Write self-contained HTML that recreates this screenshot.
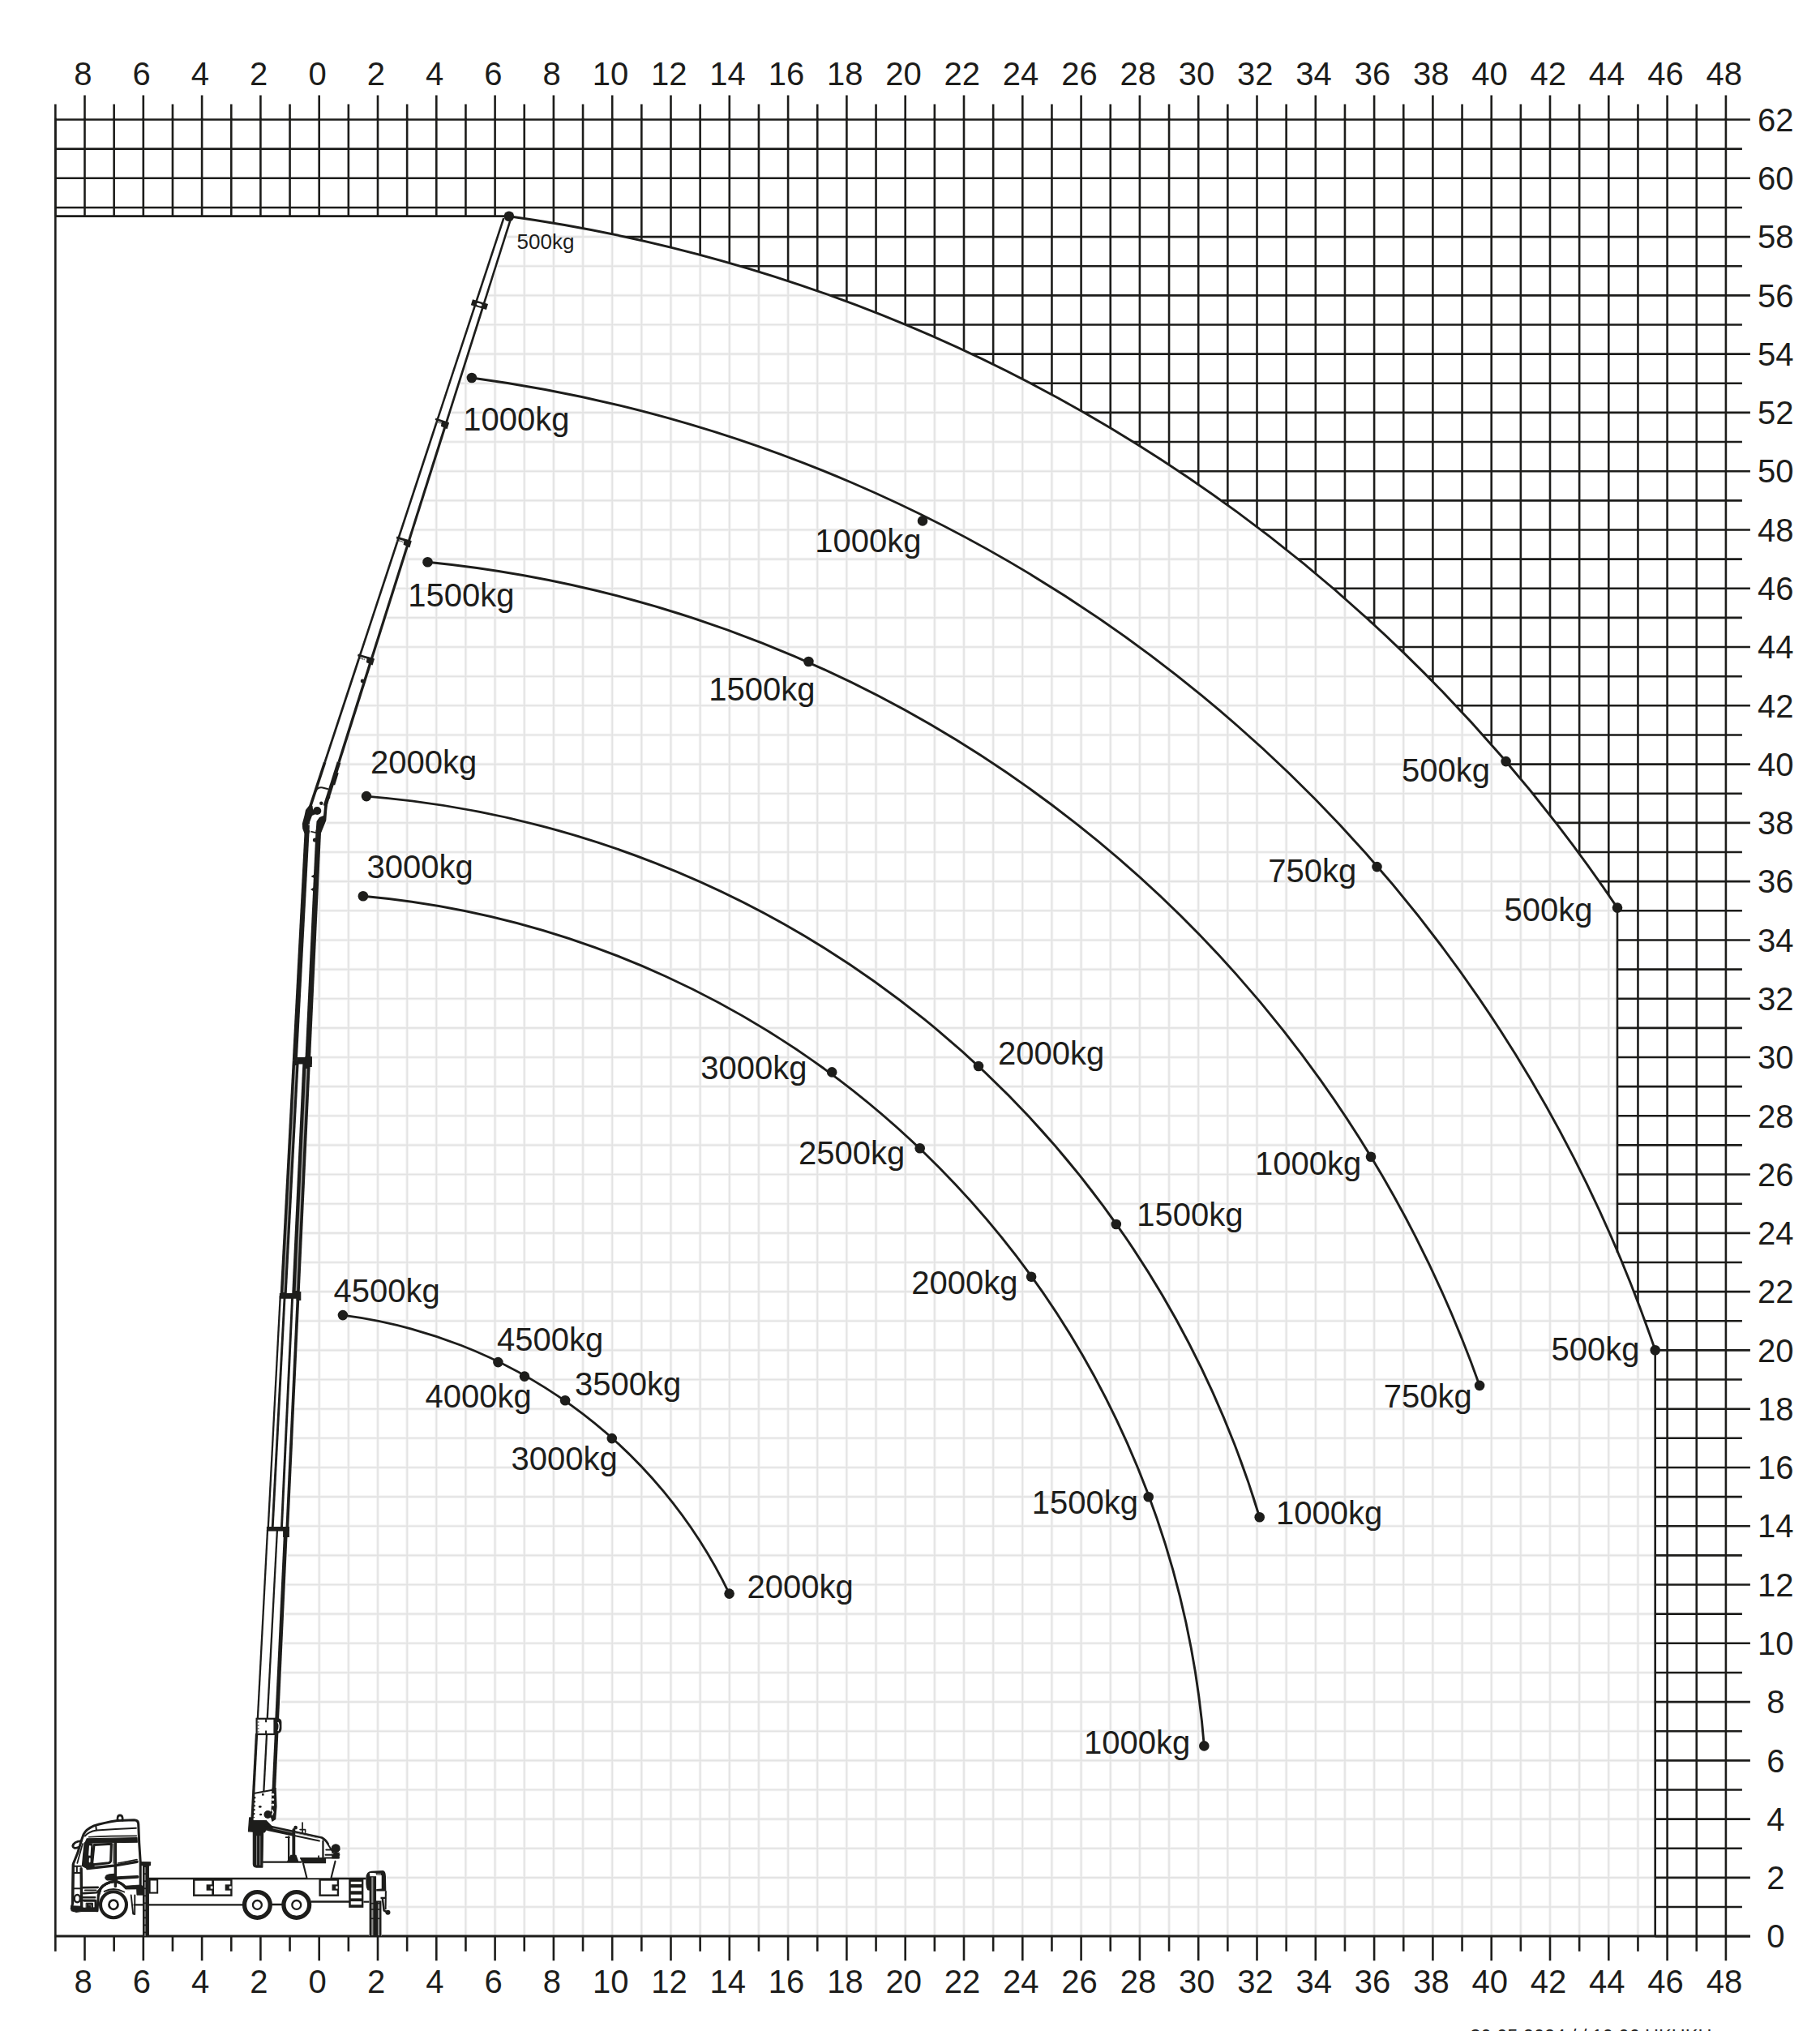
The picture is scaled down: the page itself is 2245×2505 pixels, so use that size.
<!DOCTYPE html>
<html><head><meta charset="utf-8"><title>Load chart</title>
<style>
html,body{margin:0;padding:0;background:#fff;}
body{width:2245px;height:2505px;overflow:hidden;}
svg{display:block;}
text{font-family:"Liberation Sans",sans-serif;fill:#1d1d1b;}
.ax{font-size:40px;}
.lb{font-size:40px;}
.sm{font-size:26px;}
.ft{font-size:23.5px;}
</style></head><body>
<svg width="2245" height="2505" viewBox="0 0 2245 2505">
<rect width="2245" height="2505" fill="#fff"/>

<defs><clipPath id="out"><path clip-rule="evenodd" d="M0,0 H2245 V2505 H0 Z M65.35000000000002,266.6 L627.9,266.8 A1978.1,1978.1 0 0 1 1995.0,1119.6 L1995.0,1543.1 A1794.2,1794.2 0 0 1 2041.7,1665.2 L2041.7,2391.2 L65.35000000000002,2391.2 Z"/></clipPath>
<clipPath id="lgc"><path d="M630.3,275 L631.9,266.8 A1978.1,1978.1 0 0 1 1995.0,1119.6 L1995.0,1543.1 A1794.2,1794.2 0 0 1 2041.7,1665.2 L2041.7,2388.2 L470.0,2388.2 L470.0,2366.0 L484.0,2358.0 L477.0,2350.0 L477.0,2307.0 L452.0,2307.0 L452.0,2316.0 L409.0,2316.0 L414.0,2298.0 L420.0,2298.0 L421.0,2276.0 L398.0,2265.0 L341.0,2251.0 L339.8,2245.0 L396.2,1030.0 L404.0,1012.0 L404.5,990.0 L405.8,985 Z"/></clipPath></defs>
<g clip-path="url(#lgc)"><path d="M393.70,260 V2388.2 M429.85,260 V2388.2 M466.00,260 V2388.2 M502.15,260 V2388.2 M538.30,260 V2388.2 M574.45,260 V2388.2 M610.60,260 V2388.2 M646.75,260 V2388.2 M682.90,260 V2388.2 M719.05,260 V2388.2 M755.20,260 V2388.2 M791.35,260 V2388.2 M827.50,260 V2388.2 M863.65,260 V2388.2 M899.80,260 V2388.2 M935.95,260 V2388.2 M972.10,260 V2388.2 M1008.25,260 V2388.2 M1044.40,260 V2388.2 M1080.55,260 V2388.2 M1116.70,260 V2388.2 M1152.85,260 V2388.2 M1189.00,260 V2388.2 M1225.15,260 V2388.2 M1261.30,260 V2388.2 M1297.45,260 V2388.2 M1333.60,260 V2388.2 M1369.75,260 V2388.2 M1405.90,260 V2388.2 M1442.05,260 V2388.2 M1478.20,260 V2388.2 M1514.35,260 V2388.2 M1550.50,260 V2388.2 M1586.65,260 V2388.2 M1622.80,260 V2388.2 M1658.95,260 V2388.2 M1695.10,260 V2388.2 M1731.25,260 V2388.2 M1767.40,260 V2388.2 M1803.55,260 V2388.2 M1839.70,260 V2388.2 M1875.85,260 V2388.2 M1912.00,260 V2388.2 M1948.15,260 V2388.2 M1984.30,260 V2388.2 M2020.45,260 V2388.2 M2056.60,260 V2388.2 M300,2388.20 H2050 M300,2352.06 H2050 M300,2315.92 H2050 M300,2279.78 H2050 M300,2243.64 H2050 M300,2207.50 H2050 M300,2171.36 H2050 M300,2135.22 H2050 M300,2099.08 H2050 M300,2062.94 H2050 M300,2026.80 H2050 M300,1990.66 H2050 M300,1954.52 H2050 M300,1918.38 H2050 M300,1882.24 H2050 M300,1846.10 H2050 M300,1809.96 H2050 M300,1773.82 H2050 M300,1737.68 H2050 M300,1701.54 H2050 M300,1665.40 H2050 M300,1629.26 H2050 M300,1593.12 H2050 M300,1556.98 H2050 M300,1520.84 H2050 M300,1484.70 H2050 M300,1448.56 H2050 M300,1412.42 H2050 M300,1376.28 H2050 M300,1340.14 H2050 M300,1304.00 H2050 M300,1267.86 H2050 M300,1231.72 H2050 M300,1195.58 H2050 M300,1159.44 H2050 M300,1123.30 H2050 M300,1087.16 H2050 M300,1051.02 H2050 M300,1014.88 H2050 M300,978.74 H2050 M300,942.60 H2050 M300,906.46 H2050 M300,870.32 H2050 M300,834.18 H2050 M300,798.04 H2050 M300,761.90 H2050 M300,725.76 H2050 M300,689.62 H2050 M300,653.48 H2050 M300,617.34 H2050 M300,581.20 H2050 M300,545.06 H2050 M300,508.92 H2050 M300,472.78 H2050 M300,436.64 H2050 M300,400.50 H2050 M300,364.36 H2050 M300,328.22 H2050 M300,292.08 H2050" stroke="#f3f3f3" stroke-width="3.6" fill="none"/><path d="M393.70,260 V2388.2 M429.85,260 V2388.2 M466.00,260 V2388.2 M502.15,260 V2388.2 M538.30,260 V2388.2 M574.45,260 V2388.2 M610.60,260 V2388.2 M646.75,260 V2388.2 M682.90,260 V2388.2 M719.05,260 V2388.2 M755.20,260 V2388.2 M791.35,260 V2388.2 M827.50,260 V2388.2 M863.65,260 V2388.2 M899.80,260 V2388.2 M935.95,260 V2388.2 M972.10,260 V2388.2 M1008.25,260 V2388.2 M1044.40,260 V2388.2 M1080.55,260 V2388.2 M1116.70,260 V2388.2 M1152.85,260 V2388.2 M1189.00,260 V2388.2 M1225.15,260 V2388.2 M1261.30,260 V2388.2 M1297.45,260 V2388.2 M1333.60,260 V2388.2 M1369.75,260 V2388.2 M1405.90,260 V2388.2 M1442.05,260 V2388.2 M1478.20,260 V2388.2 M1514.35,260 V2388.2 M1550.50,260 V2388.2 M1586.65,260 V2388.2 M1622.80,260 V2388.2 M1658.95,260 V2388.2 M1695.10,260 V2388.2 M1731.25,260 V2388.2 M1767.40,260 V2388.2 M1803.55,260 V2388.2 M1839.70,260 V2388.2 M1875.85,260 V2388.2 M1912.00,260 V2388.2 M1948.15,260 V2388.2 M1984.30,260 V2388.2 M2020.45,260 V2388.2 M2056.60,260 V2388.2 M300,2388.20 H2050 M300,2352.06 H2050 M300,2315.92 H2050 M300,2279.78 H2050 M300,2243.64 H2050 M300,2207.50 H2050 M300,2171.36 H2050 M300,2135.22 H2050 M300,2099.08 H2050 M300,2062.94 H2050 M300,2026.80 H2050 M300,1990.66 H2050 M300,1954.52 H2050 M300,1918.38 H2050 M300,1882.24 H2050 M300,1846.10 H2050 M300,1809.96 H2050 M300,1773.82 H2050 M300,1737.68 H2050 M300,1701.54 H2050 M300,1665.40 H2050 M300,1629.26 H2050 M300,1593.12 H2050 M300,1556.98 H2050 M300,1520.84 H2050 M300,1484.70 H2050 M300,1448.56 H2050 M300,1412.42 H2050 M300,1376.28 H2050 M300,1340.14 H2050 M300,1304.00 H2050 M300,1267.86 H2050 M300,1231.72 H2050 M300,1195.58 H2050 M300,1159.44 H2050 M300,1123.30 H2050 M300,1087.16 H2050 M300,1051.02 H2050 M300,1014.88 H2050 M300,978.74 H2050 M300,942.60 H2050 M300,906.46 H2050 M300,870.32 H2050 M300,834.18 H2050 M300,798.04 H2050 M300,761.90 H2050 M300,725.76 H2050 M300,689.62 H2050 M300,653.48 H2050 M300,617.34 H2050 M300,581.20 H2050 M300,545.06 H2050 M300,508.92 H2050 M300,472.78 H2050 M300,436.64 H2050 M300,400.50 H2050 M300,364.36 H2050 M300,328.22 H2050 M300,292.08 H2050" stroke="#e3e3e3" stroke-width="1.6" fill="none"/></g>
<g clip-path="url(#out)"><path d="M68.35,145.51999999999998 V2388.2 M104.50,145.51999999999998 V2388.2 M140.65,145.51999999999998 V2388.2 M176.80,145.51999999999998 V2388.2 M212.95,145.51999999999998 V2388.2 M249.10,145.51999999999998 V2388.2 M285.25,145.51999999999998 V2388.2 M321.40,145.51999999999998 V2388.2 M357.55,145.51999999999998 V2388.2 M393.70,145.51999999999998 V2388.2 M429.85,145.51999999999998 V2388.2 M466.00,145.51999999999998 V2388.2 M502.15,145.51999999999998 V2388.2 M538.30,145.51999999999998 V2388.2 M574.45,145.51999999999998 V2388.2 M610.60,145.51999999999998 V2388.2 M646.75,145.51999999999998 V2388.2 M682.90,145.51999999999998 V2388.2 M719.05,145.51999999999998 V2388.2 M755.20,145.51999999999998 V2388.2 M791.35,145.51999999999998 V2388.2 M827.50,145.51999999999998 V2388.2 M863.65,145.51999999999998 V2388.2 M899.80,145.51999999999998 V2388.2 M935.95,145.51999999999998 V2388.2 M972.10,145.51999999999998 V2388.2 M1008.25,145.51999999999998 V2388.2 M1044.40,145.51999999999998 V2388.2 M1080.55,145.51999999999998 V2388.2 M1116.70,145.51999999999998 V2388.2 M1152.85,145.51999999999998 V2388.2 M1189.00,145.51999999999998 V2388.2 M1225.15,145.51999999999998 V2388.2 M1261.30,145.51999999999998 V2388.2 M1297.45,145.51999999999998 V2388.2 M1333.60,145.51999999999998 V2388.2 M1369.75,145.51999999999998 V2388.2 M1405.90,145.51999999999998 V2388.2 M1442.05,145.51999999999998 V2388.2 M1478.20,145.51999999999998 V2388.2 M1514.35,145.51999999999998 V2388.2 M1550.50,145.51999999999998 V2388.2 M1586.65,145.51999999999998 V2388.2 M1622.80,145.51999999999998 V2388.2 M1658.95,145.51999999999998 V2388.2 M1695.10,145.51999999999998 V2388.2 M1731.25,145.51999999999998 V2388.2 M1767.40,145.51999999999998 V2388.2 M1803.55,145.51999999999998 V2388.2 M1839.70,145.51999999999998 V2388.2 M1875.85,145.51999999999998 V2388.2 M1912.00,145.51999999999998 V2388.2 M1948.15,145.51999999999998 V2388.2 M1984.30,145.51999999999998 V2388.2 M2020.45,145.51999999999998 V2388.2 M2056.60,145.51999999999998 V2388.2 M2092.75,145.51999999999998 V2388.2 M2128.90,145.51999999999998 V2388.2 M68.35000000000002,2388.20 H2158.9 M68.35000000000002,2352.06 H2148.9 M68.35000000000002,2315.92 H2158.9 M68.35000000000002,2279.78 H2148.9 M68.35000000000002,2243.64 H2158.9 M68.35000000000002,2207.50 H2148.9 M68.35000000000002,2171.36 H2158.9 M68.35000000000002,2135.22 H2148.9 M68.35000000000002,2099.08 H2158.9 M68.35000000000002,2062.94 H2148.9 M68.35000000000002,2026.80 H2158.9 M68.35000000000002,1990.66 H2148.9 M68.35000000000002,1954.52 H2158.9 M68.35000000000002,1918.38 H2148.9 M68.35000000000002,1882.24 H2158.9 M68.35000000000002,1846.10 H2148.9 M68.35000000000002,1809.96 H2158.9 M68.35000000000002,1773.82 H2148.9 M68.35000000000002,1737.68 H2158.9 M68.35000000000002,1701.54 H2148.9 M68.35000000000002,1665.40 H2158.9 M68.35000000000002,1629.26 H2148.9 M68.35000000000002,1593.12 H2158.9 M68.35000000000002,1556.98 H2148.9 M68.35000000000002,1520.84 H2158.9 M68.35000000000002,1484.70 H2148.9 M68.35000000000002,1448.56 H2158.9 M68.35000000000002,1412.42 H2148.9 M68.35000000000002,1376.28 H2158.9 M68.35000000000002,1340.14 H2148.9 M68.35000000000002,1304.00 H2158.9 M68.35000000000002,1267.86 H2148.9 M68.35000000000002,1231.72 H2158.9 M68.35000000000002,1195.58 H2148.9 M68.35000000000002,1159.44 H2158.9 M68.35000000000002,1123.30 H2148.9 M68.35000000000002,1087.16 H2158.9 M68.35000000000002,1051.02 H2148.9 M68.35000000000002,1014.88 H2158.9 M68.35000000000002,978.74 H2148.9 M68.35000000000002,942.60 H2158.9 M68.35000000000002,906.46 H2148.9 M68.35000000000002,870.32 H2158.9 M68.35000000000002,834.18 H2148.9 M68.35000000000002,798.04 H2158.9 M68.35000000000002,761.90 H2148.9 M68.35000000000002,725.76 H2158.9 M68.35000000000002,689.62 H2148.9 M68.35000000000002,653.48 H2158.9 M68.35000000000002,617.34 H2148.9 M68.35000000000002,581.20 H2158.9 M68.35000000000002,545.06 H2148.9 M68.35000000000002,508.92 H2158.9 M68.35000000000002,472.78 H2148.9 M68.35000000000002,436.64 H2158.9 M68.35000000000002,400.50 H2148.9 M68.35000000000002,364.36 H2158.9 M68.35000000000002,328.22 H2148.9 M68.35000000000002,292.08 H2158.9 M68.35000000000002,255.94 H2148.9 M68.35000000000002,219.80 H2158.9 M68.35000000000002,183.66 H2148.9 M68.35000000000002,147.52 H2158.9" stroke="#1d1d1b" stroke-width="2.6" fill="none"/></g>
<path d="M68.35,128.5 V147.5 M68.35,2388.2 V2406.7 M104.50,117.5 V147.5 M104.50,2388.2 V2418.2 M140.65,128.5 V147.5 M140.65,2388.2 V2406.7 M176.80,117.5 V147.5 M176.80,2388.2 V2418.2 M212.95,128.5 V147.5 M212.95,2388.2 V2406.7 M249.10,117.5 V147.5 M249.10,2388.2 V2418.2 M285.25,128.5 V147.5 M285.25,2388.2 V2406.7 M321.40,117.5 V147.5 M321.40,2388.2 V2418.2 M357.55,128.5 V147.5 M357.55,2388.2 V2406.7 M393.70,117.5 V147.5 M393.70,2388.2 V2418.2 M429.85,128.5 V147.5 M429.85,2388.2 V2406.7 M466.00,117.5 V147.5 M466.00,2388.2 V2418.2 M502.15,128.5 V147.5 M502.15,2388.2 V2406.7 M538.30,117.5 V147.5 M538.30,2388.2 V2418.2 M574.45,128.5 V147.5 M574.45,2388.2 V2406.7 M610.60,117.5 V147.5 M610.60,2388.2 V2418.2 M646.75,128.5 V147.5 M646.75,2388.2 V2406.7 M682.90,117.5 V147.5 M682.90,2388.2 V2418.2 M719.05,128.5 V147.5 M719.05,2388.2 V2406.7 M755.20,117.5 V147.5 M755.20,2388.2 V2418.2 M791.35,128.5 V147.5 M791.35,2388.2 V2406.7 M827.50,117.5 V147.5 M827.50,2388.2 V2418.2 M863.65,128.5 V147.5 M863.65,2388.2 V2406.7 M899.80,117.5 V147.5 M899.80,2388.2 V2418.2 M935.95,128.5 V147.5 M935.95,2388.2 V2406.7 M972.10,117.5 V147.5 M972.10,2388.2 V2418.2 M1008.25,128.5 V147.5 M1008.25,2388.2 V2406.7 M1044.40,117.5 V147.5 M1044.40,2388.2 V2418.2 M1080.55,128.5 V147.5 M1080.55,2388.2 V2406.7 M1116.70,117.5 V147.5 M1116.70,2388.2 V2418.2 M1152.85,128.5 V147.5 M1152.85,2388.2 V2406.7 M1189.00,117.5 V147.5 M1189.00,2388.2 V2418.2 M1225.15,128.5 V147.5 M1225.15,2388.2 V2406.7 M1261.30,117.5 V147.5 M1261.30,2388.2 V2418.2 M1297.45,128.5 V147.5 M1297.45,2388.2 V2406.7 M1333.60,117.5 V147.5 M1333.60,2388.2 V2418.2 M1369.75,128.5 V147.5 M1369.75,2388.2 V2406.7 M1405.90,117.5 V147.5 M1405.90,2388.2 V2418.2 M1442.05,128.5 V147.5 M1442.05,2388.2 V2406.7 M1478.20,117.5 V147.5 M1478.20,2388.2 V2418.2 M1514.35,128.5 V147.5 M1514.35,2388.2 V2406.7 M1550.50,117.5 V147.5 M1550.50,2388.2 V2418.2 M1586.65,128.5 V147.5 M1586.65,2388.2 V2406.7 M1622.80,117.5 V147.5 M1622.80,2388.2 V2418.2 M1658.95,128.5 V147.5 M1658.95,2388.2 V2406.7 M1695.10,117.5 V147.5 M1695.10,2388.2 V2418.2 M1731.25,128.5 V147.5 M1731.25,2388.2 V2406.7 M1767.40,117.5 V147.5 M1767.40,2388.2 V2418.2 M1803.55,128.5 V147.5 M1803.55,2388.2 V2406.7 M1839.70,117.5 V147.5 M1839.70,2388.2 V2418.2 M1875.85,128.5 V147.5 M1875.85,2388.2 V2406.7 M1912.00,117.5 V147.5 M1912.00,2388.2 V2418.2 M1948.15,128.5 V147.5 M1948.15,2388.2 V2406.7 M1984.30,117.5 V147.5 M1984.30,2388.2 V2418.2 M2020.45,128.5 V147.5 M2020.45,2388.2 V2406.7 M2056.60,117.5 V147.5 M2056.60,2388.2 V2418.2 M2092.75,128.5 V147.5 M2092.75,2388.2 V2406.7 M2128.90,117.5 V147.5 M2128.90,2388.2 V2418.2 M68.35000000000002,147.51999999999998 V2388.2 M68.35000000000002,266.6 H627.9 M1995.0,1119.6 V1545.1 M2041.7,1665.2 V2388.2" stroke="#1d1d1b" stroke-width="2.6" fill="none"/>
<path d="M67.05000000000003,2388.0 H2158.8999999999996" stroke="#1d1d1b" stroke-width="3" fill="none"/>
<text class="ax" x="102.3" y="105.3" text-anchor="middle">8</text>
<text class="ax" x="102.5" y="2457.8" text-anchor="middle">8</text>
<text class="ax" x="174.6" y="105.3" text-anchor="middle">6</text>
<text class="ax" x="174.8" y="2457.8" text-anchor="middle">6</text>
<text class="ax" x="246.9" y="105.3" text-anchor="middle">4</text>
<text class="ax" x="247.1" y="2457.8" text-anchor="middle">4</text>
<text class="ax" x="319.2" y="105.3" text-anchor="middle">2</text>
<text class="ax" x="319.4" y="2457.8" text-anchor="middle">2</text>
<text class="ax" x="391.5" y="105.3" text-anchor="middle">0</text>
<text class="ax" x="391.7" y="2457.8" text-anchor="middle">0</text>
<text class="ax" x="463.8" y="105.3" text-anchor="middle">2</text>
<text class="ax" x="464.0" y="2457.8" text-anchor="middle">2</text>
<text class="ax" x="536.1" y="105.3" text-anchor="middle">4</text>
<text class="ax" x="536.3" y="2457.8" text-anchor="middle">4</text>
<text class="ax" x="608.4" y="105.3" text-anchor="middle">6</text>
<text class="ax" x="608.6" y="2457.8" text-anchor="middle">6</text>
<text class="ax" x="680.7" y="105.3" text-anchor="middle">8</text>
<text class="ax" x="680.9" y="2457.8" text-anchor="middle">8</text>
<text class="ax" x="753.0" y="105.3" text-anchor="middle">10</text>
<text class="ax" x="753.2" y="2457.8" text-anchor="middle">10</text>
<text class="ax" x="825.3" y="105.3" text-anchor="middle">12</text>
<text class="ax" x="825.5" y="2457.8" text-anchor="middle">12</text>
<text class="ax" x="897.6" y="105.3" text-anchor="middle">14</text>
<text class="ax" x="897.8" y="2457.8" text-anchor="middle">14</text>
<text class="ax" x="969.9" y="105.3" text-anchor="middle">16</text>
<text class="ax" x="970.1" y="2457.8" text-anchor="middle">16</text>
<text class="ax" x="1042.2" y="105.3" text-anchor="middle">18</text>
<text class="ax" x="1042.4" y="2457.8" text-anchor="middle">18</text>
<text class="ax" x="1114.5" y="105.3" text-anchor="middle">20</text>
<text class="ax" x="1114.7" y="2457.8" text-anchor="middle">20</text>
<text class="ax" x="1186.8" y="105.3" text-anchor="middle">22</text>
<text class="ax" x="1187.0" y="2457.8" text-anchor="middle">22</text>
<text class="ax" x="1259.1" y="105.3" text-anchor="middle">24</text>
<text class="ax" x="1259.3" y="2457.8" text-anchor="middle">24</text>
<text class="ax" x="1331.4" y="105.3" text-anchor="middle">26</text>
<text class="ax" x="1331.6" y="2457.8" text-anchor="middle">26</text>
<text class="ax" x="1403.7" y="105.3" text-anchor="middle">28</text>
<text class="ax" x="1403.9" y="2457.8" text-anchor="middle">28</text>
<text class="ax" x="1476.0" y="105.3" text-anchor="middle">30</text>
<text class="ax" x="1476.2" y="2457.8" text-anchor="middle">30</text>
<text class="ax" x="1548.3" y="105.3" text-anchor="middle">32</text>
<text class="ax" x="1548.5" y="2457.8" text-anchor="middle">32</text>
<text class="ax" x="1620.6" y="105.3" text-anchor="middle">34</text>
<text class="ax" x="1620.8" y="2457.8" text-anchor="middle">34</text>
<text class="ax" x="1692.9" y="105.3" text-anchor="middle">36</text>
<text class="ax" x="1693.1" y="2457.8" text-anchor="middle">36</text>
<text class="ax" x="1765.2" y="105.3" text-anchor="middle">38</text>
<text class="ax" x="1765.4" y="2457.8" text-anchor="middle">38</text>
<text class="ax" x="1837.5" y="105.3" text-anchor="middle">40</text>
<text class="ax" x="1837.7" y="2457.8" text-anchor="middle">40</text>
<text class="ax" x="1909.8" y="105.3" text-anchor="middle">42</text>
<text class="ax" x="1910.0" y="2457.8" text-anchor="middle">42</text>
<text class="ax" x="1982.1" y="105.3" text-anchor="middle">44</text>
<text class="ax" x="1982.3" y="2457.8" text-anchor="middle">44</text>
<text class="ax" x="2054.4" y="105.3" text-anchor="middle">46</text>
<text class="ax" x="2054.6" y="2457.8" text-anchor="middle">46</text>
<text class="ax" x="2126.7" y="105.3" text-anchor="middle">48</text>
<text class="ax" x="2126.9" y="2457.8" text-anchor="middle">48</text>
<text class="ax" x="2190.3" y="2402.4" text-anchor="middle">0</text>
<text class="ax" x="2190.3" y="2330.1" text-anchor="middle">2</text>
<text class="ax" x="2190.3" y="2257.8" text-anchor="middle">4</text>
<text class="ax" x="2190.3" y="2185.6" text-anchor="middle">6</text>
<text class="ax" x="2190.3" y="2113.3" text-anchor="middle">8</text>
<text class="ax" x="2190.3" y="2041.0" text-anchor="middle">10</text>
<text class="ax" x="2190.3" y="1968.7" text-anchor="middle">12</text>
<text class="ax" x="2190.3" y="1896.4" text-anchor="middle">14</text>
<text class="ax" x="2190.3" y="1824.2" text-anchor="middle">16</text>
<text class="ax" x="2190.3" y="1751.9" text-anchor="middle">18</text>
<text class="ax" x="2190.3" y="1679.6" text-anchor="middle">20</text>
<text class="ax" x="2190.3" y="1607.3" text-anchor="middle">22</text>
<text class="ax" x="2190.3" y="1535.0" text-anchor="middle">24</text>
<text class="ax" x="2190.3" y="1462.8" text-anchor="middle">26</text>
<text class="ax" x="2190.3" y="1390.5" text-anchor="middle">28</text>
<text class="ax" x="2190.3" y="1318.2" text-anchor="middle">30</text>
<text class="ax" x="2190.3" y="1245.9" text-anchor="middle">32</text>
<text class="ax" x="2190.3" y="1173.6" text-anchor="middle">34</text>
<text class="ax" x="2190.3" y="1101.4" text-anchor="middle">36</text>
<text class="ax" x="2190.3" y="1029.1" text-anchor="middle">38</text>
<text class="ax" x="2190.3" y="956.8" text-anchor="middle">40</text>
<text class="ax" x="2190.3" y="884.5" text-anchor="middle">42</text>
<text class="ax" x="2190.3" y="812.2" text-anchor="middle">44</text>
<text class="ax" x="2190.3" y="740.0" text-anchor="middle">46</text>
<text class="ax" x="2190.3" y="667.7" text-anchor="middle">48</text>
<text class="ax" x="2190.3" y="595.4" text-anchor="middle">50</text>
<text class="ax" x="2190.3" y="523.1" text-anchor="middle">52</text>
<text class="ax" x="2190.3" y="450.8" text-anchor="middle">54</text>
<text class="ax" x="2190.3" y="378.6" text-anchor="middle">56</text>
<text class="ax" x="2190.3" y="306.3" text-anchor="middle">58</text>
<text class="ax" x="2190.3" y="234.0" text-anchor="middle">60</text>
<text class="ax" x="2190.3" y="161.7" text-anchor="middle">62</text>
<path d="M627.9,266.8 A1978.1,1978.1 0 0 1 1995,1119.6" stroke="#1d1d1b" stroke-width="2.9" fill="none"/>
<path d="M581.9,466 A1794.2,1794.2 0 0 1 2041.7,1665.2" stroke="#1d1d1b" stroke-width="2.9" fill="none"/>
<path d="M527.5,693.2 A1539.2,1539.2 0 0 1 1825.1,1708.9" stroke="#1d1d1b" stroke-width="2.9" fill="none"/>
<path d="M452,982.1 A1257.6,1257.6 0 0 1 1553.7,1871.3" stroke="#1d1d1b" stroke-width="2.9" fill="none"/>
<path d="M447.9,1105.2 A1143.5,1143.5 0 0 1 1485.3,2153.4" stroke="#1d1d1b" stroke-width="2.9" fill="none"/>
<path d="M422.9,1622.1 A616.4,616.4 0 0 1 899.6,1965.6" stroke="#1d1d1b" stroke-width="2.9" fill="none"/>
<g transform="translate(220,2220) scale(0.153846)" stroke="#1d1d1b" fill="none" stroke-width="15.7" stroke-linejoin="miter">
<path d="M-240,630 H1515"/>
<path d="M-360,841 H520 M748,838 H832 M1062,816 H1372"/>
<rect x="125" y="640" width="300" height="125" fill="#fff"/>
<path d="M277,640 V765" stroke-width="17.9"/>
<rect x="225" y="678" width="50" height="48" fill="#1d1d1b" stroke="none"/><rect x="375" y="678" width="50" height="48" fill="#1d1d1b" stroke="none"/>
<rect x="258" y="692" width="18" height="20" fill="#fff" stroke="none"/><rect x="408" y="692" width="18" height="20" fill="#fff" stroke="none"/>
<rect x="1135" y="640" width="145" height="125" fill="#fff"/>
<rect x="1232" y="678" width="48" height="48" fill="#1d1d1b" stroke="none"/><rect x="1262" y="692" width="16" height="20" fill="#fff" stroke="none"/>
<rect x="-230" y="640" width="62" height="105" fill="#fff" stroke-width="13.4"/>
<circle cx="633" cy="841.4" r="103" fill="#fff" stroke-width="34.5"/>
<circle cx="633" cy="841.4" r="35.5" stroke-width="15"/>
<circle cx="947.5" cy="841.4" r="103" fill="#fff" stroke-width="34.5"/>
<circle cx="947.5" cy="841.4" r="35.5" stroke-width="15"/>
</g>
<g transform="translate(400,2290) scale(0.060441)" stroke="#1d1d1b" fill="none" stroke-width="40" stroke-linejoin="miter">
<rect x="500" y="462" width="300" height="578" fill="#1d1d1b" stroke="none"/>
<rect x="542" y="510" width="218" height="52" fill="#fff" stroke="none"/>
<rect x="542" y="632" width="218" height="68" fill="#fff" stroke="none"/>
<rect x="542" y="772" width="218" height="78" fill="#fff" stroke="none"/>
<rect x="542" y="912" width="218" height="68" fill="#fff" stroke="none"/>
<path d="M800,921 H925" stroke-width="36"/>
<path d="M850,300 L1262,288 L1268,1080 L1352,1130 L1300,1205 L1172,1100 L1172,1622 L918,1622 L918,700 L850,650 Z" fill="#fff" stroke="none"/>
<rect x="920" y="400" width="140" height="1222" fill="#1d1d1b" stroke="none"/>
<rect x="1050" y="900" width="116" height="722" fill="#1d1d1b" stroke="none"/>
<rect x="963" y="420" width="36" height="1185" fill="#8f8f8d" stroke="none"/>
<rect x="1093" y="935" width="34" height="670" fill="#8f8f8d" stroke="none"/>
<rect x="955" y="940" width="180" height="26" fill="#1d1d1b" stroke="none"/>
<rect x="955" y="1062" width="180" height="26" fill="#1d1d1b" stroke="none"/>
<rect x="955" y="1250" width="180" height="26" fill="#1d1d1b" stroke="none"/>
<path d="M850,430 Q855,302 962,293 L1200,282 Q1252,290 1257,400 L1263,702 L1062,702 L1062,660 L1170,655 L1170,382 L1062,374 L1062,338 L932,336 L926,692 L882,682 Q850,640 850,560 Z" fill="#1d1d1b" stroke="none"/>
<rect x="925" y="332" width="105" height="30" fill="#fff" stroke="none"/>
<rect x="1078" y="345" width="80" height="26" fill="#9a9a98" stroke="none"/>
<path d="M1256,700 L1250,1078" stroke-width="34"/>
<path d="M1150,842 H1255" stroke-width="38"/>
<path d="M1190,862 L1218,1098 L1298,1142" stroke-width="42" stroke-linecap="round" stroke-linejoin="round"/>
<circle cx="1298" cy="1136" r="50" fill="#1d1d1b" stroke="none"/>
<path d="M1170,1622 H1530" stroke-width="26"/>
</g>
<g transform="translate(80,2230) scale(0.068927)" stroke="#1d1d1b" fill="none" stroke-width="46" stroke-linejoin="round" stroke-linecap="round">
<path d="M1335,965 L1535,968 L1528,1030 L1335,1025 Z" fill="#1d1d1b" stroke-width="14"/>
<rect x="1392" y="1000" width="116" height="1300" fill="#1d1d1b" stroke="none"/>
<path d="M1436,1060 V2290" stroke="#d0d0d0" stroke-width="13" stroke-dasharray="105 26" stroke-linecap="butt"/>
<path d="M120,1800 L140,1700 L150,1000 L230,800 L300,570 L335,470 Q380,380 520,318 Q700,262 940,225 L1240,215 Q1312,216 1316,285 L1330,620 L1352,960 L1352,1400 L1085,1422 Q1000,1320 880,1312 Q720,1330 640,1440 L600,1560 L580,1840 Z" fill="#fff" stroke-width="44"/>
<path d="M942,222 L946,170 Q950,132 986,130 Q1024,132 1030,170 L1034,220" stroke-width="40"/>
<circle cx="986" cy="180" r="20" fill="#fff" stroke="none"/>
<path d="M565,398 Q900,372 1275,358" stroke-width="30"/>
<path d="M362,500 Q420,420 565,398 L555,322" stroke-width="30"/>
<path d="M430,518 Q800,498 1282,498" stroke-width="24"/>
<path d="M395,548 L1292,532 L1296,612 L360,628 Z" fill="#1d1d1b" stroke-width="16"/>
<path d="M292,590 Q160,600 142,680 Q150,740 250,702" stroke-width="42"/>
<path d="M352,622 L488,640 L476,975 L525,1030 L405,1082 L312,1035 L330,830 Z" fill="#1d1d1b" stroke-width="20"/>
<path d="M452,672 L440,850" stroke="#fff" stroke-width="34" stroke-linecap="butt"/>
<path d="M446,905 L444,962" stroke="#fff" stroke-width="26" stroke-linecap="round"/>
<path d="M318,640 L222,985" stroke-width="26"/>
<path d="M522,660 L832,642 L822,945 Q815,975 780,982 L505,1012 Q488,1000 492,960 Z" stroke-width="44"/>
<path d="M905,620 V1400" stroke-width="50"/>
<path d="M868,640 V990" stroke-width="16"/>
<path d="M405,1082 L905,1028 L1292,962" stroke-width="50"/>
<path d="M950,985 L1292,922" stroke-width="22"/>
<path d="M735,1215 Q760,1180 900,1180 L940,1290 L760,1290 Q700,1262 735,1215 Z" fill="#1d1d1b" stroke-width="16"/>
<path d="M940,1252 L1300,1232" stroke-width="56"/>
<path d="M150,1010 L138,1700" stroke-width="46"/>
<path d="M292,1085 L300,1780" stroke-width="50"/>
<path d="M150,1040 H290 M150,1160 H290 M150,1440 H290" stroke-width="30"/>
<path d="M215,1050 V1150" stroke-width="30"/>
<path d="M330,1425 L590,1420" stroke-width="40"/>
<path d="M360,1472 H560" stroke-width="26"/>
<path d="M335,1525 L575,1512 L625,1455 Q700,1340 900,1312" stroke-width="38"/>
<path d="M330,1600 H540 M330,1650 H540" stroke-width="34"/>
<ellipse cx="222" cy="1620" rx="52" ry="66" stroke-width="36"/>
<path d="M345,1660 H550 V1800" stroke-width="40"/>
<path d="M385,1700 H500 V1790 H385 Z" fill="#1d1d1b" stroke-width="14"/>
<path d="M430,1735 H470 V1785" stroke="#8a8a88" stroke-width="14"/>
<path d="M112,1752 L300,1760 L330,1790 L580,1780 L580,1850 L300,1850 L200,1862 L118,1840 Z" fill="#1d1d1b" stroke-width="16"/>
<path d="M600,1565 L640,1440 Q720,1335 890,1312 Q1010,1322 1085,1422" stroke-width="46"/>
<path d="M705,1492 Q880,1405 1062,1502" stroke-width="26"/>
<path d="M1085,1395 L1352,1378 L1400,1400 L1400,1555 L1290,1555 L1285,1450 L1090,1452 Z" fill="#1d1d1b" stroke-width="12"/>
<path d="M1120,1462 H1160" stroke="#9a9a98" stroke-width="14"/>
<path d="M1185,1560 L1222,1895 L1250,1900 L1252,1560" stroke-width="28"/>
<circle cx="870" cy="1730" r="232" fill="#fff" stroke-width="60"/>
<circle cx="870" cy="1730" r="80" stroke-width="40"/>
</g>
<g transform="translate(220,2220) scale(0.153846)" stroke="#1d1d1b" fill="none" stroke-width="17.5" stroke-linejoin="round" stroke-linecap="round">
<path d="M690,205 L1150,300 L1215,360 L1300,380 L1295,470 L1255,495 L1225,625 L1030,625 L1000,505 L680,500 Z" fill="#fff" stroke="none"/>
<path d="M570,142 L638,148 L703,165 L747,210 L707,237 L690,259 L562,252 Z" fill="#1d1d1b" stroke-width="8"/>
<path d="M600,250 L600,515 Q602,540 625,540 L675,540 L680,250 Z" fill="#1d1d1b" stroke-width="7.5"/>
<path d="M628,290 V520 M655,290 V520" stroke="#9a9a98" stroke-width="6.2"/>
<path d="M700,205 L1150,302 Q1180,318 1200,352"/>
<path d="M715,240 L1130,328" stroke-width="13.8"/>
<path d="M700,208 L930,258 L925,282 L712,238 Z" fill="#1d1d1b" stroke="none"/>
<path d="M760,228 L1120,306" stroke="#8a8a88" stroke-width="6.2"/>
<circle cx="1262" cy="388" r="36" fill="#1d1d1b" stroke="none"/>
<path d="M1195,350 L1240,420 M1185,400 L1290,400 M1180,440 H1290 M1175,465 H1285" stroke-width="12.5"/>
<path d="M1160,330 L1160,470" stroke-width="15"/>
<rect x="1230" y="420" width="62" height="50" fill="#1d1d1b" stroke="none"/>
<path d="M1185,432 H1240" stroke="#bbb" stroke-width="7.5"/>
<path d="M885,295 V480" stroke-width="15"/><path d="M925,240 V480" stroke-width="25"/>
<path d="M862,300 H890" stroke-width="11.2"/>
<path d="M870,495 L900,440 L945,440 L965,495 Z" fill="#1d1d1b" stroke="none"/>
<circle cx="940" cy="222" r="15" fill="#1d1d1b" stroke="none"/>
<path d="M995,182 V260" stroke-width="11.2"/><path d="M975,238 H1018 V262" stroke-width="10"/>
<path d="M680,498 H985" stroke-width="15"/>
<path d="M978,466 H1180 V505 H1000 Z" fill="#1d1d1b" stroke-width="7.5"/>
<path d="M1125,450 V466" stroke-width="11.2"/>
<path d="M1000,505 L1030,625 M1258,492 L1225,625" stroke-width="13.8"/>
</g>
<g stroke="#1d1d1b" fill="none" stroke-linecap="butt">
<polygon points="375.5,1027 396.0,1027 339.5,2245 311.7,2245" fill="#fff" stroke="none"/>
<line x1="378.66" y1="1024" x2="363.78" y2="1308" stroke-width="6.0" />
<line x1="392.84" y1="1024" x2="379.66" y2="1308" stroke-width="6.6" />
<line x1="364.78" y1="1308" x2="349.58" y2="1598" stroke-width="8.0" />
<line x1="378.26" y1="1308" x2="364.81" y2="1598" stroke-width="9.4" />
<line x1="364.66" y1="1314" x2="349.99" y2="1594" stroke-width="1.3" stroke="#a9a9a7"/>
<line x1="378.10" y1="1318" x2="365.38" y2="1592" stroke-width="1.5" stroke="#a9a9a7"/>
<line x1="345.78" y1="1598" x2="330.64" y2="1887" stroke-width="2.3" />
<line x1="351.18" y1="1598" x2="336.04" y2="1887" stroke-width="2.9" />
<line x1="360.71" y1="1598" x2="347.30" y2="1887" stroke-width="2.9" />
<line x1="367.61" y1="1598" x2="354.20" y2="1887" stroke-width="3.7" />
<line x1="330.04" y1="1887" x2="317.72" y2="2122" stroke-width="2.3" />
<line x1="341.94" y1="1887" x2="329.62" y2="2122" stroke-width="2.3" />
<line x1="352.50" y1="1887" x2="341.59" y2="2122" stroke-width="4.8" />
<line x1="316.58" y1="2138" x2="310.92" y2="2246" stroke-width="3.3" />
<line x1="329.08" y1="2138" x2="325.31" y2="2210" stroke-width="2.3" />
<line x1="341.05" y1="2138" x2="337.01" y2="2225" stroke-width="4.6" />
<rect x="366.3" y="1304.0" width="18.5" height="8.5" fill="#1d1d1b" stroke="none"/>
<rect x="376.5" y="1303.0" width="8.3" height="13.0" fill="#1d1d1b" stroke="none"/>
<rect x="344.8" y="1595.0" width="25.9" height="6.8" fill="#1d1d1b" stroke="none"/>
<rect x="365.5" y="1593.0" width="5.8" height="11.0" fill="#1d1d1b" stroke="none"/>
<rect x="328.9" y="1883.0" width="28.0" height="5.5" fill="#1d1d1b" stroke="none"/>
<rect x="349.1" y="1883.0" width="7.8" height="13.0" fill="#1d1d1b" stroke="none"/>
<rect x="316.6" y="2119.8" width="22.8" height="19.2" fill="#fff" stroke-width="2.2"/>
<path d="M337.4,2119 h5.5 q4.5,1 4.5,5 v8 q0,5 -4.5,6 h-5.5 z" fill="#1d1d1b" stroke="none"/>
<path d="M342.9,2124 q2.6,5 0,11" stroke="#fff" stroke-width="1.3"/>
<path d="M317.6,2124 h2 M317.6,2128 h2 M317.6,2132 h2 M317.6,2136 h2" stroke-width="1.2"/>
<path d="M328.1,2119.8 v4.5 M328.1,2139 v-4.5" stroke-width="2"/>
<path d="M312.9,2212 L337.2,2207.5" stroke-width="2.2"/>
<path d="M335.7,2205 L340.7,2205 L341.6,2228 L340.2,2244 L335.5,2247 L333.5,2240 L335,2226 Z" fill="#1d1d1b" stroke="none"/>
<circle cx="336.6" cy="2213.2" r="1.5" fill="#fff" stroke="none"/>
<circle cx="336.6" cy="2219.6" r="1.5" fill="#fff" stroke="none"/>
<circle cx="336.6" cy="2226" r="1.5" fill="#fff" stroke="none"/>
<path d="M335.2,2232 l1.8,3 l-1.6,4" stroke="#fff" stroke-width="1.5"/>
<circle cx="330.4" cy="2238" r="4.9" fill="#1d1d1b" stroke="none"/>
<ellipse cx="320.8" cy="2228.4" rx="1.9" ry="1.3" fill="#1d1d1b" stroke="none"/><ellipse cx="321.6" cy="2238" rx="1.6" ry="1.2" fill="#1d1d1b" stroke="none"/>
<rect x="323" y="2212" width="2.6" height="2.6" fill="#1d1d1b" stroke="none"/>
<path d="M314.6,2216 l-1.3,26" stroke-width="1.5" stroke-dasharray="2.4 2.6"/>
</g>
<g stroke="#1d1d1b" fill="none" stroke-linecap="butt">
<polygon points="620.3,272 629.4,272 401.7,992 383.6,992" fill="#fff" stroke="none"/>
<line x1="621.33" y1="269" x2="586.16" y2="376" stroke-width="2.5" />
<line x1="630.31" y1="269" x2="596.47" y2="376" stroke-width="2.5" />
<line x1="586.16" y1="376" x2="538.49" y2="521" stroke-width="2.5" />
<line x1="596.47" y1="376" x2="550.61" y2="521" stroke-width="2.7" />
<line x1="538.49" y1="521" x2="490.16" y2="668" stroke-width="2.6" />
<line x1="550.61" y1="521" x2="504.12" y2="668" stroke-width="3.1" />
<line x1="490.16" y1="668" x2="442.49" y2="813" stroke-width="2.6" />
<line x1="504.12" y1="668" x2="458.26" y2="813" stroke-width="3.2" />
<line x1="442.49" y1="813" x2="400.74" y2="940" stroke-width="2.7" />
<line x1="458.26" y1="813" x2="418.10" y2="940" stroke-width="3.4" />
<line x1="400.74" y1="940" x2="382.98" y2="994" stroke-width="3.6" />
<line x1="418.10" y1="940" x2="401.02" y2="994" stroke-width="4.8" />
<path d="M581.9,372.7 L601.0,378.5" stroke-width="7.4"/>
<ellipse cx="591.2" cy="375.7" rx="3.4" ry="1.5" transform="rotate(17 591.2 375.7)" fill="#fff" stroke="none"/>
<path d="M537.1,516.7 L553.5,522.3" stroke-width="2.8"/>
<polygon points="545.0,518.9 553.9,521.7 551.7,529.3 543.9,525.7" fill="#1d1d1b" stroke="none"/>
<path d="M540.3,520.7 l5,1.6" stroke-width="1.6" stroke-dasharray="1.2 1"/>
<path d="M489.1,662.8 L507.2,668.4" stroke-width="2.8"/>
<polygon points="498.7,665.0 507.6,667.8 505.4,675.4 497.6,671.8" fill="#1d1d1b" stroke="none"/>
<path d="M492.3,666.8 l5,1.6" stroke-width="1.6" stroke-dasharray="1.2 1"/>
<path d="M441.4,807.9 L461.4,813.5" stroke-width="2.8"/>
<polygon points="452.9,810.1 461.8,812.9 459.6,820.5 451.8,816.9" fill="#1d1d1b" stroke="none"/>
<path d="M444.6,811.9 l5,1.6" stroke-width="1.6" stroke-dasharray="1.2 1"/>
<path d="M389.4,976 q2.5,-5.5 8.5,-4.5 l7,1.8" stroke-width="2"/>
<path d="M416.2,953 l-4.6,15" stroke-width="3.2"/>
<circle cx="405.2" cy="983" r="2.2" fill="#1d1d1b" stroke="none"/>
<circle cx="396.3" cy="990.8" r="2.2" fill="#1d1d1b" stroke="none"/>
<circle cx="447.1" cy="840" r="2.4" fill="#1d1d1b" stroke="none"/>
</g>
<g fill="#1d1d1b" stroke="none">
<polygon points="382.5,992 377,999 375.5,1006 372.8,1016 373.2,1022 375.5,1028 381.5,1028 382,1014 385,1006 389.5,1004 386,998 385.5,994"/>
<polygon points="400.5,990 404.3,990 403.2,1000 402.3,1012 396.2,1027 389.5,1027 390.5,1013 394,1008 399,1006"/>
<circle cx="391.2" cy="1000" r="5.1"/>
<circle cx="388.5" cy="1036" r="2.6"/>
<path d="M381,1025 l9,2.2" stroke="#1d1d1b" stroke-width="1.8" fill="none"/>
<path d="M380.5,1017 h2.2 v9" stroke="#fff" stroke-width="1.2" fill="none"/>
<polygon points="383.5,1081 387.5,1078.5 387.5,1083"/><polygon points="383,1097 387,1094.5 387,1099.5"/>
</g>
<circle cx="627.9" cy="266.8" r="6.3" fill="#1d1d1b"/>
<circle cx="1857.6" cy="939.1" r="6.3" fill="#1d1d1b"/>
<circle cx="1995" cy="1119.6" r="6.3" fill="#1d1d1b"/>
<circle cx="581.9" cy="466" r="6.3" fill="#1d1d1b"/>
<circle cx="1138" cy="642.4" r="6.3" fill="#1d1d1b"/>
<circle cx="1698.5" cy="1069.1" r="6.3" fill="#1d1d1b"/>
<circle cx="2041.7" cy="1665.2" r="6.3" fill="#1d1d1b"/>
<circle cx="527.5" cy="693.2" r="6.3" fill="#1d1d1b"/>
<circle cx="997.4" cy="816" r="6.3" fill="#1d1d1b"/>
<circle cx="1691" cy="1426.8" r="6.3" fill="#1d1d1b"/>
<circle cx="1825.1" cy="1708.9" r="6.3" fill="#1d1d1b"/>
<circle cx="452" cy="982.1" r="6.3" fill="#1d1d1b"/>
<circle cx="1207" cy="1315" r="6.3" fill="#1d1d1b"/>
<circle cx="1376.8" cy="1510" r="6.3" fill="#1d1d1b"/>
<circle cx="1553.7" cy="1871.3" r="6.3" fill="#1d1d1b"/>
<circle cx="447.9" cy="1105.2" r="6.3" fill="#1d1d1b"/>
<circle cx="1026.2" cy="1322.4" r="6.3" fill="#1d1d1b"/>
<circle cx="1134.7" cy="1416.3" r="6.3" fill="#1d1d1b"/>
<circle cx="1272.1" cy="1574.7" r="6.3" fill="#1d1d1b"/>
<circle cx="1416.7" cy="1846.2" r="6.3" fill="#1d1d1b"/>
<circle cx="1485.3" cy="2153.4" r="6.3" fill="#1d1d1b"/>
<circle cx="422.9" cy="1622.1" r="6.3" fill="#1d1d1b"/>
<circle cx="614.4" cy="1680.1" r="6.3" fill="#1d1d1b"/>
<circle cx="647" cy="1697.6" r="6.3" fill="#1d1d1b"/>
<circle cx="697.1" cy="1727.3" r="6.3" fill="#1d1d1b"/>
<circle cx="754.8" cy="1774.1" r="6.3" fill="#1d1d1b"/>
<circle cx="899.6" cy="1965.6" r="6.3" fill="#1d1d1b"/>
<text class="sm" x="637.5" y="307.4">500kg</text>
<text class="lb" x="571.2" y="530.5">1000kg</text>
<text class="lb" x="503.3" y="748.1">1500kg</text>
<text class="lb" x="1005.3" y="680.9">1000kg</text>
<text class="lb" x="874.3" y="863.6">1500kg</text>
<text class="lb" x="457.1" y="954.1">2000kg</text>
<text class="lb" x="452.5" y="1082.7">3000kg</text>
<text class="lb" x="1729.1" y="963.7">500kg</text>
<text class="lb" x="1564.3" y="1088.1">750kg</text>
<text class="lb" x="1855.4" y="1135.5">500kg</text>
<text class="lb" x="864.3" y="1330.6">3000kg</text>
<text class="lb" x="1231.1" y="1312.7">2000kg</text>
<text class="lb" x="985.1" y="1435.8">2500kg</text>
<text class="lb" x="1547.9" y="1448.7">1000kg</text>
<text class="lb" x="1402.3" y="1511.6">1500kg</text>
<text class="lb" x="1124.2" y="1596.2">2000kg</text>
<text class="lb" x="411.5" y="1605.9">4500kg</text>
<text class="lb" x="612.9" y="1665.9">4500kg</text>
<text class="lb" x="524.5" y="1736.2">4000kg</text>
<text class="lb" x="709.0" y="1721.3">3500kg</text>
<text class="lb" x="630.5" y="1813">3000kg</text>
<text class="lb" x="1706.7" y="1735.8">750kg</text>
<text class="lb" x="1913.6" y="1677.6">500kg</text>
<text class="lb" x="1272.8" y="1866.8">1500kg</text>
<text class="lb" x="1574.0" y="1880">1000kg</text>
<text class="lb" x="921.4" y="1971.1">2000kg</text>
<text class="lb" x="1336.9" y="2162.6">1000kg</text>
<text class="ft" x="1813.5" y="2519.6">30.05.2024 / / 10:06 HKHKH</text>
</svg></body></html>
